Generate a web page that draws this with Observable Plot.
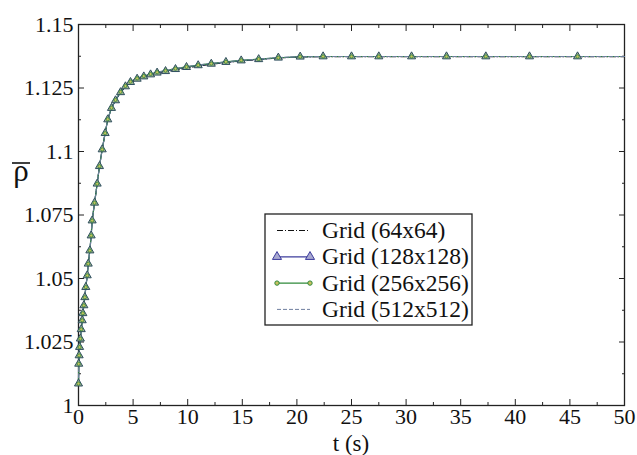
<!DOCTYPE html>
<html>
<head>
<meta charset="utf-8">
<script src="https://cdn.jsdelivr.net/npm/d3@7"></script>
<script src="https://cdn.jsdelivr.net/npm/@observablehq/plot@0.6"></script>
<style>
  html, body { margin: 0; padding: 0; background: #fff; }
  svg text { font-family: "Liberation Serif", "Times New Roman", serif; }
</style>
</head>
<body>
<div id="chart"></div>
<script>
// ---- Data ----
const times = [0, 0.02, 0.06, 0.1, 0.17, 0.25, 0.34, 0.4, 0.49, 0.58, 0.67, 0.8, 0.89, 1.04, 1.16, 1.25,
  1.47, 1.71, 1.92, 2.17, 2.44, 2.68, 3.02, 3.39, 3.85, 4.3, 4.76, 5.37, 5.98, 6.6, 7.2, 7.97, 8.88,
  9.89, 10.96, 12.16, 13.5, 14.9, 16.5, 18.3, 20.3, 22.4, 25.0, 27.5, 30.5, 33.7, 37.3, 41.3, 45.7, 50];
const rho64 = [1.0086, 1.0164, 1.0197, 1.023, 1.0263, 1.0300, 1.0335, 1.0363, 1.0394, 1.0426, 1.0466, 1.0512, 1.0558, 1.061, 1.0669, 1.0728,
  1.0798, 1.0873, 1.0942, 1.1008, 1.1072, 1.1126, 1.1171, 1.1201, 1.1231, 1.1253, 1.1270, 1.1283, 1.1292, 1.1300, 1.1307, 1.1313, 1.1321,
  1.1329, 1.1336, 1.1343, 1.1350, 1.1356, 1.1362, 1.1368, 1.1372, 1.1373, 1.1373, 1.1373, 1.1373, 1.1373, 1.1373, 1.1373, 1.1373, 1.1373];
const rho128 = [1.0086, 1.0164, 1.0197, 1.023, 1.0263, 1.0300, 1.0335, 1.0363, 1.0394, 1.0426, 1.0466, 1.0512, 1.0558, 1.061, 1.0669, 1.0728,
  1.0798, 1.0873, 1.0942, 1.1008, 1.1072, 1.1126, 1.1171, 1.1201, 1.1233, 1.1256, 1.1273, 1.1286, 1.1295, 1.1303, 1.1310, 1.1316, 1.1324,
  1.1332, 1.1339, 1.1345, 1.1352, 1.1358, 1.1363, 1.1369, 1.1373, 1.1374, 1.1374, 1.1374, 1.1374, 1.1374, 1.1374, 1.1374, 1.1374, 1.1374];
const rho256 = [1.0086, 1.0164, 1.0197, 1.023, 1.0263, 1.0300, 1.0335, 1.0363, 1.0394, 1.0426, 1.0466, 1.0512, 1.0558, 1.061, 1.0669, 1.0728,
  1.0798, 1.0873, 1.0942, 1.1008, 1.1072, 1.1127, 1.1172, 1.1203, 1.1235, 1.1258, 1.1275, 1.1288, 1.1297, 1.1305, 1.1312, 1.1318, 1.1326,
  1.1333, 1.1340, 1.1346, 1.1353, 1.1359, 1.1364, 1.1369, 1.1373, 1.1374, 1.1374, 1.1374, 1.1374, 1.1374, 1.1374, 1.1374, 1.1374, 1.1374];
const rho512 = [1.0086, 1.0164, 1.0197, 1.023, 1.0263, 1.0300, 1.0335, 1.0363, 1.0394, 1.0426, 1.0466, 1.0512, 1.0558, 1.061, 1.0669, 1.0728,
  1.0798, 1.0873, 1.0942, 1.1008, 1.1072, 1.1127, 1.1173, 1.1204, 1.1236, 1.1259, 1.1276, 1.1289, 1.1298, 1.1306, 1.1313, 1.1319, 1.1327,
  1.1334, 1.1341, 1.1347, 1.1353, 1.1359, 1.1364, 1.1370, 1.1373, 1.1374, 1.1374, 1.1374, 1.1374, 1.1374, 1.1374, 1.1374, 1.1374, 1.1374];

const seriesNames = ["Grid (64x64)", "Grid (128x128)", "Grid (256x256)", "Grid (512x512)"];
const xTicks = [0, 5, 10, 15, 20, 25, 30, 35, 40, 45, 50];
const xTickLabels = ["0", "5", "10", "15", "20", "25", "30", "35", "40", "45", "50"];
const xMinorTicks = [2.5, 7.5, 12.5, 17.5, 22.5, 27.5, 32.5, 37.5, 42.5, 47.5];
const yTicks = [1, 1.025, 1.05, 1.075, 1.1, 1.125, 1.15];
const yTickLabels = ["1", "1.025", "1.05", "1.075", "1.1", "1.125", "1.15"];
const yMinorTicks = [1.0125, 1.0375, 1.0625, 1.0875, 1.1125, 1.1375];
const xLabel = "t (s)";
const yLabel = "ρ";

// ---- Styles ----
const styles = [
  {stroke: "#111", dash: "6,2,1,2", width: 1, marker: null},
  {stroke: "#3c3c9c", dash: null, width: 1.2, marker: "triangle"},
  {stroke: "#2f8a3a", dash: null, width: 1.2, marker: "circle"},
  {stroke: "#6f7f9f", dash: "4,2", width: 1, marker: null}
];
const allRho = [rho64, rho128, rho256, rho512];
const tables = allRho.map(r => times.map((t, i) => ({t, v: r[i]})));

const tickFont = 22, textFont = 23.5;
const W = 637, H = 455;
const ax = {label: null, stroke: "#222"};

const marks = [
  Plot.frame({stroke: "#222", strokeWidth: 1.3}),
  Plot.axisX({...ax, ticks: xTicks, tickSize: -6, text: null}),
  Plot.axisX({...ax, ticks: xTicks, anchor: "top", tickSize: -6, text: null}),
  Plot.axisX({...ax, ticks: xMinorTicks, tickSize: -3, text: null}),
  Plot.axisX({...ax, ticks: xMinorTicks, anchor: "top", tickSize: -3, text: null}),
  Plot.axisY({...ax, ticks: yTicks, tickSize: -6, text: null}),
  Plot.axisY({...ax, ticks: yTicks, anchor: "right", tickSize: -6, text: null}),
  Plot.axisY({...ax, ticks: yMinorTicks, tickSize: -3, text: null}),
  Plot.axisY({...ax, ticks: yMinorTicks, anchor: "right", tickSize: -3, text: null}),
  Plot.axisX({ticks: xTicks, tickSize: 0, tickPadding: 3, tickFormat: (d, i) => xTickLabels[i],
    fontSize: tickFont, label: null, fill: "#111"}),
  Plot.axisY({ticks: yTicks, tickSize: 0, tickPadding: 5, tickFormat: (d, i) => yTickLabels[i],
    fontSize: tickFont, label: null, fill: "#111"}),
];

tables.forEach((tab, k) => {
  const s = styles[k];
  marks.push(Plot.line(tab, {x: "t", y: "v", stroke: s.stroke, strokeWidth: s.width,
    strokeDasharray: s.dash}));
});
tables.forEach((tab, k) => {
  const s = styles[k];
  const pts = tab.filter(d => d.t < 50);
  if (s.marker === "triangle") {
    marks.push(Plot.dot(pts, {x: "t", y: "v", symbol: "triangle", r: 3, stroke: "#2f4f5f", fill: "#9fb08f", strokeWidth: 1}));
  } else if (s.marker === "circle") {
    marks.push(Plot.dot(pts, {x: "t", y: "v", symbol: "circle", r: 1.6, stroke: s.stroke, fill: "#c9c060", strokeWidth: 0.8}));
  }
});

const plot = Plot.plot({
  width: W, height: H,
  marginLeft: 78, marginRight: 13, marginTop: 24, marginBottom: 50,
  x: {domain: [0, 50]},
  y: {domain: [1, 1.15]},
  style: {fontFamily: "Liberation Serif, serif", fontSize: tickFont + "px", background: "#fff", color: "#111"},
  marks
});
document.getElementById("chart").appendChild(plot);

// ---- Axis titles and legend ----
const svg = d3.select(plot);
const xs = plot.scale("x"), ys = plot.scale("y");
const x0 = xs.range[0], x1 = xs.range[1];
const yB = ys.range[0];
svg.append("text").attr("x", (x0 + x1) / 2).attr("y", yB + 46)
  .attr("text-anchor", "middle").attr("font-size", textFont - 0.5).attr("fill", "#111").text(xLabel);
const rhoG = svg.append("g").attr("transform", `translate(21, ${yB - 224})`);
rhoG.append("text").attr("x", 0).attr("y", 0).attr("text-anchor", "middle")
  .attr("font-size", 31).attr("fill", "#111").text(yLabel);
rhoG.append("line").attr("x1", -9).attr("x2", 9).attr("y1", -18).attr("y2", -18)
  .attr("stroke", "#111").attr("stroke-width", 1.6);

// legend box
const lx = 265, ly = 214, lw = 207, lh = 111;
const lg = svg.append("g");
lg.append("rect").attr("x", lx).attr("y", ly).attr("width", lw).attr("height", lh)
  .attr("fill", "#fff").attr("stroke", "#222").attr("stroke-width", 1.3);
seriesNames.forEach((name, k) => {
  const s = styles[k];
  const cy = ly + 16.5 + k * 26.3;
  const ax1 = lx + 12, bx = lx + 45;
  lg.append("line").attr("x1", ax1).attr("x2", bx).attr("y1", cy).attr("y2", cy)
    .attr("stroke", s.stroke).attr("stroke-width", s.width).attr("stroke-dasharray", s.dash);
  if (s.marker === "triangle") {
    const tri = d3.symbol(d3.symbolTriangle, 36);
    [ax1, bx].forEach(px => lg.append("path").attr("d", tri()).attr("transform", `translate(${px},${cy})`)
      .attr("fill", "#a8a8d0").attr("stroke", s.stroke));
  } else if (s.marker === "circle") {
    [ax1, bx].forEach(px => lg.append("circle").attr("cx", px).attr("cy", cy).attr("r", 2.2)
      .attr("fill", "#c9c060").attr("stroke", s.stroke));
  }
  lg.append("text").attr("x", lx + 57).attr("y", cy + 7.5).attr("text-anchor", "start")
    .attr("font-size", textFont).attr("fill", "#111").text(name);
});
</script>
</body>
</html>
